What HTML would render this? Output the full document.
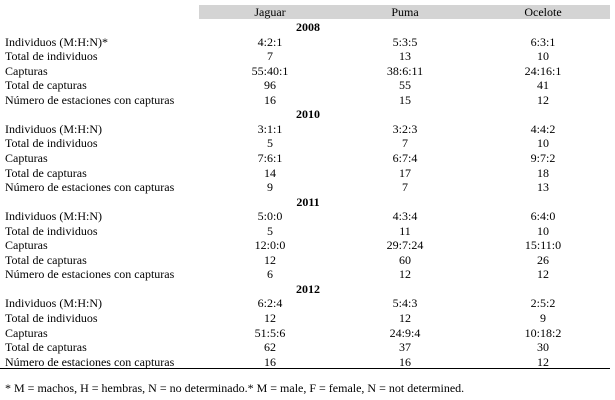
<!DOCTYPE html>
<html><head><meta charset="utf-8">
<style>
body{margin:0;width:615px;height:400px;background:#fff;position:relative;overflow:hidden;font-family:"Liberation Serif",serif;font-size:12px;color:#000}
.t{position:absolute;white-space:nowrap;line-height:14px}
.c{transform:translateX(-50%)}
#hdr{position:absolute;left:199px;top:5px;width:411px;height:14px;background:#d4d4d4}
#rule{position:absolute;left:0;top:368px;width:610px;height:1px;background:#000}
</style></head>
<body>
<div id="hdr"></div>
<div class="t c" style="left:270px;top:5px">Jaguar</div>
<div class="t c" style="left:405px;top:5px">Puma</div>
<div class="t c" style="left:543px;top:5px">Ocelote</div>
<div id="rule"></div>
<div class="t" style="left:5px;top:381px">* M = machos, H = hembras, N = no determinado.* M = male, F = female, N = not determined.</div>
<script>
const years=["2008","2010","2011","2012"];
const rowLabels=["Individuos (M:H:N)","Total de individuos","Capturas","Total de capturas","Número de estaciones con capturas"];
const jaguar=[["4:2:1","7","55:40:1","96","16"],["3:1:1","5","7:6:1","14","9"],["5:0:0","5","12:0:0","12","6"],["6:2:4","12","51:5:6","62","16"]];
const puma=[["5:3:5","13","38:6:11","55","15"],["3:2:3","7","6:7:4","17","7"],["4:3:4","11","29:7:24","60","12"],["5:4:3","12","24:9:4","37","16"]];
const ocelote=[["6:3:1","10","24:16:1","41","12"],["4:4:2","10","9:7:2","18","13"],["6:4:0","10","15:11:0","26","12"],["2:5:2","9","10:18:2","30","12"]];
const cols=[270,405,543];
function add(txt,x,y,center,bold,name){
  const d=document.createElement('div');
  d.className='t'+(center?' c':'');
  d.style.left=x+'px';d.style.top=y+'px';
  if(bold)d.style.fontWeight='bold';
  d.textContent=txt;
  
  
  document.body.appendChild(d);
}
const pitch=14.55;let r=0;
years.forEach((yr,i)=>{
  add(yr,308,20+r*pitch,true,true,'year-'+yr);r++;
  rowLabels.forEach((lab,j)=>{
    const y=20+r*pitch;
    add(lab+(i===0&&j===0?'*':''),5,y,false,false,'row-label');
    add(jaguar[i][j],cols[0],y,true,false,'jaguar-cell');
    add(puma[i][j],cols[1],y,true,false,'puma-cell');
    add(ocelote[i][j],cols[2],y,true,false,'ocelote-cell');
    r++;
  });
});
</script>
</body></html>
